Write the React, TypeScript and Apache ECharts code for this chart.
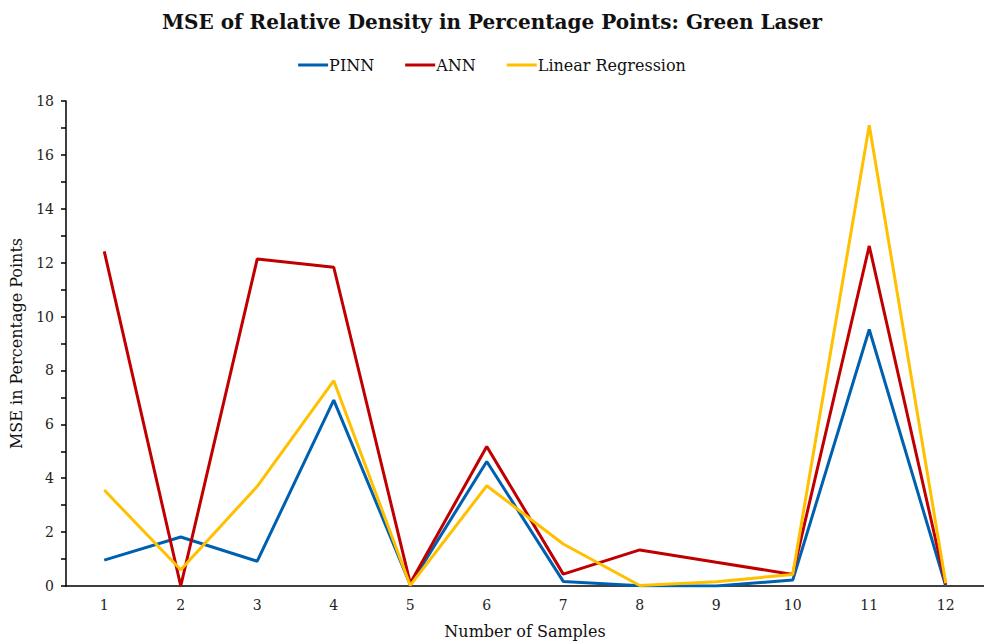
import React, { useEffect, useRef } from "react";
import * as echarts from "echarts";

const categories = ["1", "2", "3", "4", "5", "6", "7", "8", "9", "10", "11", "12"];
const pinn = [0.96, 1.82, 0.92, 6.9, 0.05, 4.62, 0.17, 0.01, 0.0, 0.22, 9.52, 0.0];
const ann = [12.42, 0.0, 12.14, 11.83, 0.1, 5.18, 0.44, 1.34, 0.88, 0.43, 12.62, 0.05];
const linReg = [3.56, 0.6, 3.7, 7.62, 0.02, 3.72, 1.56, 0.02, 0.16, 0.43, 17.1, 0.1];

const FONT = "DejaVu Serif";

export default function App() {
  const ref = useRef<HTMLDivElement>(null);
  useEffect(() => {
    if (!ref.current) return;
    const chart = echarts.init(ref.current, undefined, { renderer: "svg" });
    const mk = (name: string, data: number[], color: string) => ({
      name,
      type: "line",
      data,
      symbol: "none",
      lineStyle: { color, width: 3 },
      itemStyle: { color },
    });
    chart.setOption({
      animation: false,
      backgroundColor: "#fff",
      textStyle: { fontFamily: FONT },
      title: {
        text: "MSE of Relative Density in Percentage Points: Green Laser",
        left: "center",
        top: 7,
        textStyle: { fontFamily: FONT, fontSize: 20, fontWeight: "bold", color: "#111" },
      },
      legend: {
        top: 52,
        left: "center",
        itemWidth: 30,
        itemHeight: 3,
        itemGap: 31,
        icon: "rect",
        textStyle: { fontFamily: FONT, fontSize: 16, color: "#111", padding: [0, 0, 0, -4] },
        data: ["PINN", "ANN", "Linear Regression"],
      },
      grid: { left: 60, width: 930, top: 101, bottom: 48, containLabel: false },
      xAxis: {
        type: "category",
        data: categories,
        boundaryGap: true,
        name: "Number of Samples",
        nameLocation: "middle",
        nameGap: 37,
        nameTextStyle: { fontFamily: FONT, fontSize: 16, color: "#111" },
        axisLine: { lineStyle: { color: "#000", width: 1.5 } },
        axisTick: { alignWithLabel: true, length: 5, lineStyle: { color: "#000", width: 1.5 } },
        axisLabel: { fontFamily: FONT, fontSize: 14, color: "#222", margin: 12 },
        splitLine: { show: false },
      },
      yAxis: {
        type: "value",
        min: 0,
        max: 18,
        interval: 2,
        name: "MSE in Percentage Points",
        nameLocation: "middle",
        nameGap: 42,
        nameTextStyle: { fontFamily: FONT, fontSize: 16, color: "#111" },
        axisLine: { show: true, lineStyle: { color: "#000", width: 1.5 } },
        axisTick: { show: true, length: 5, lineStyle: { color: "#000", width: 1.5 } },
        minorTick: { show: true, splitNumber: 2, length: 5, lineStyle: { color: "#000", width: 1.5 } },
        axisLabel: { fontFamily: FONT, fontSize: 14, color: "#222", margin: 12 },
        splitLine: { show: false },
      },
      series: [
        mk("PINN", pinn, "#0060B0"),
        mk("ANN", ann, "#C00000"),
        mk("Linear Regression", linReg, "#FFC000"),
      ],
    });
    return () => chart.dispose();
  }, []);
  return <div ref={ref} style={{ width: 984, height: 644, position: "absolute", left: 0, top: 0 }} />;
}
